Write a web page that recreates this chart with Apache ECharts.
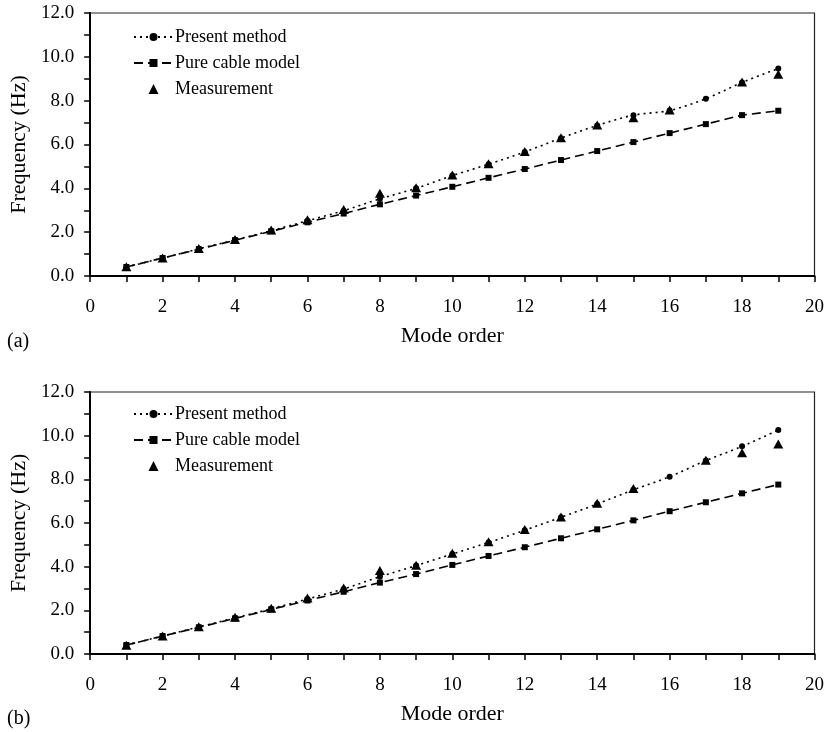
<!DOCTYPE html>
<html>
<head>
<meta charset="utf-8">
<script src="https://cdn.jsdelivr.net/npm/echarts@6/dist/echarts.min.js"></script>
<style>
html,body{margin:0;padding:0;background:#fff;}
#main{width:827px;height:732px;}
</style>
</head>
<body>
<div id="main"></div>
<script>
// ---- data ----
var modes = [1,2,3,4,5,6,7,8,9,10,11,12,13,14,15,16,17,18,19];
var presentA = [0.41,0.82,1.24,1.65,2.07,2.52,2.98,3.52,4.00,4.58,5.10,5.66,6.29,6.87,7.34,7.55,8.09,8.83,9.47];
var cableA   = [0.41,0.82,1.22,1.63,2.04,2.45,2.85,3.27,3.67,4.07,4.48,4.88,5.29,5.70,6.11,6.52,6.93,7.34,7.54];
var measA    = [0.42,0.82,1.25,1.67,2.10,2.57,3.03,3.77,4.03,4.61,5.12,5.68,6.31,6.89,7.22,7.57,null,8.85,9.21];
var presentB = [0.41,0.82,1.24,1.65,2.07,2.52,2.98,3.54,4.05,4.58,5.11,5.67,6.26,6.87,7.52,8.12,8.86,9.51,10.26];
var cableB   = [0.41,0.82,1.22,1.63,2.04,2.45,2.85,3.27,3.66,4.08,4.49,4.89,5.30,5.71,6.12,6.54,6.95,7.36,7.76];
var measB    = [0.40,0.82,1.25,1.68,2.09,2.57,3.02,3.82,4.07,4.61,5.14,5.70,6.28,6.90,7.58,null,8.87,9.22,9.62];
var seriesNames = ['Present method','Pure cable model','Measurement'];
var panelLabels = ['(a)','(b)'];
var xTitle = 'Mode order';
var yTitle = 'Frequency (Hz)';

var FONT = '"Liberation Serif", "Times New Roman", Times, serif';

function pairs(vals){
  var out = [];
  for (var i=0;i<modes.length;i++){ if (vals[i]!==null) out.push([modes[i], vals[i]]); }
  return out;
}

var grids = [
  {left:85, width:730, top:13, height:263},
  {left:85, width:730, top:392, height:262}
];

function xAxis(i){
  return {
    type:'value', gridIndex:i, min:0, max:20, interval:2,
    name:xTitle, nameLocation:'middle', nameGap:49,
    nameTextStyle:{fontFamily:FONT, fontSize:22, color:'#000'},
    axisLine:{show:true, onZero:false, lineStyle:{color:'#000', width:2}},
    axisTick:{show:true, length:6, lineStyle:{color:'#000', width:1.5}},
    minorTick:{show:true, splitNumber:2, length:6, lineStyle:{color:'#000', width:1.5}},
    axisLabel:{fontFamily:FONT, fontSize:19, color:'#000', margin:22},
    splitLine:{show:false}
  };
}
function yAxis(i){
  return {
    type:'value', gridIndex:i, min:0, max:12, interval:2,
    name:yTitle, nameLocation:'middle', nameGap:59,
    nameTextStyle:{fontFamily:FONT, fontSize:22, color:'#000'},
    axisLine:{show:true, onZero:false, lineStyle:{color:'#000', width:2}},
    axisTick:{show:true, length:6, lineStyle:{color:'#000', width:1.5}},
    minorTick:{show:true, splitNumber:2, length:6, lineStyle:{color:'#000', width:1.5}},
    axisLabel:{fontFamily:FONT, fontSize:19, color:'#000', margin:16,
      formatter:function(v){return v.toFixed(1);}},
    splitLine:{show:false}
  };
}

var panels = [[presentA,cableA,measA],[presentB,cableB,measB]];
var series = [];
panels.forEach(function(p, i){
  series.push({
    name:seriesNames[0], type:'line', xAxisIndex:i, yAxisIndex:i,
    data:pairs(p[0]), smooth:0.3, symbol:'circle', symbolSize:6, showSymbol:true,
    lineStyle:{color:'#000', width:1.6, type:[2,4]}, itemStyle:{color:'#000', opacity:1},
    z:3, animation:false
  });
  series.push({
    name:seriesNames[1], type:'line', xAxisIndex:i, yAxisIndex:i,
    data:pairs(p[1]), symbol:'rect', symbolSize:6, showSymbol:true,
    lineStyle:{color:'#000', width:1.6, type:[9,5]}, itemStyle:{color:'#000', opacity:1},
    z:3, animation:false
  });
  series.push({
    name:seriesNames[2], type:'scatter', xAxisIndex:i, yAxisIndex:i,
    data:pairs(p[2]), symbol:'triangle', symbolSize:[10,9],
    itemStyle:{color:'#000', opacity:1}, z:4, animation:false
  });
});

function legend(top){
  return {
    orient:'vertical', left:133, top:top, padding:0, itemWidth:39, itemHeight:10, itemGap:8,
    selectedMode:false, symbolKeepAspect:true,
    data:[
      {name:seriesNames[0]},
      {name:seriesNames[1]},
      {name:seriesNames[2], icon:'path://M4,0 L8,8 L0,8 Z'}
    ],
    textStyle:{fontFamily:FONT, fontSize:18, color:'#000', lineHeight:18, padding:[0,0,0,-3]}
  };
}

var option = {
  backgroundColor:'#fff',
  animation:false,
  grid: grids.map(function(g){ return Object.assign({show:true, borderColor:'#222', borderWidth:1.2, backgroundColor:'transparent', containLabel:false}, g); }),
  xAxis:[xAxis(0), xAxis(1)],
  yAxis:[yAxis(0), yAxis(1)],
  legend:[legend(28), legend(405)],
  graphic:[
    {type:'text', left:7, top:332, style:{text:panelLabels[0], font:'20px ' + FONT, fill:'#000'}},
    {type:'text', left:7, top:709, style:{text:panelLabels[1], font:'20px ' + FONT, fill:'#000'}}
  ],
  series:series
};

var chart = echarts.init(document.getElementById('main'), null, {renderer:'canvas'});
chart.setOption(option);
</script>
</body>
</html>
